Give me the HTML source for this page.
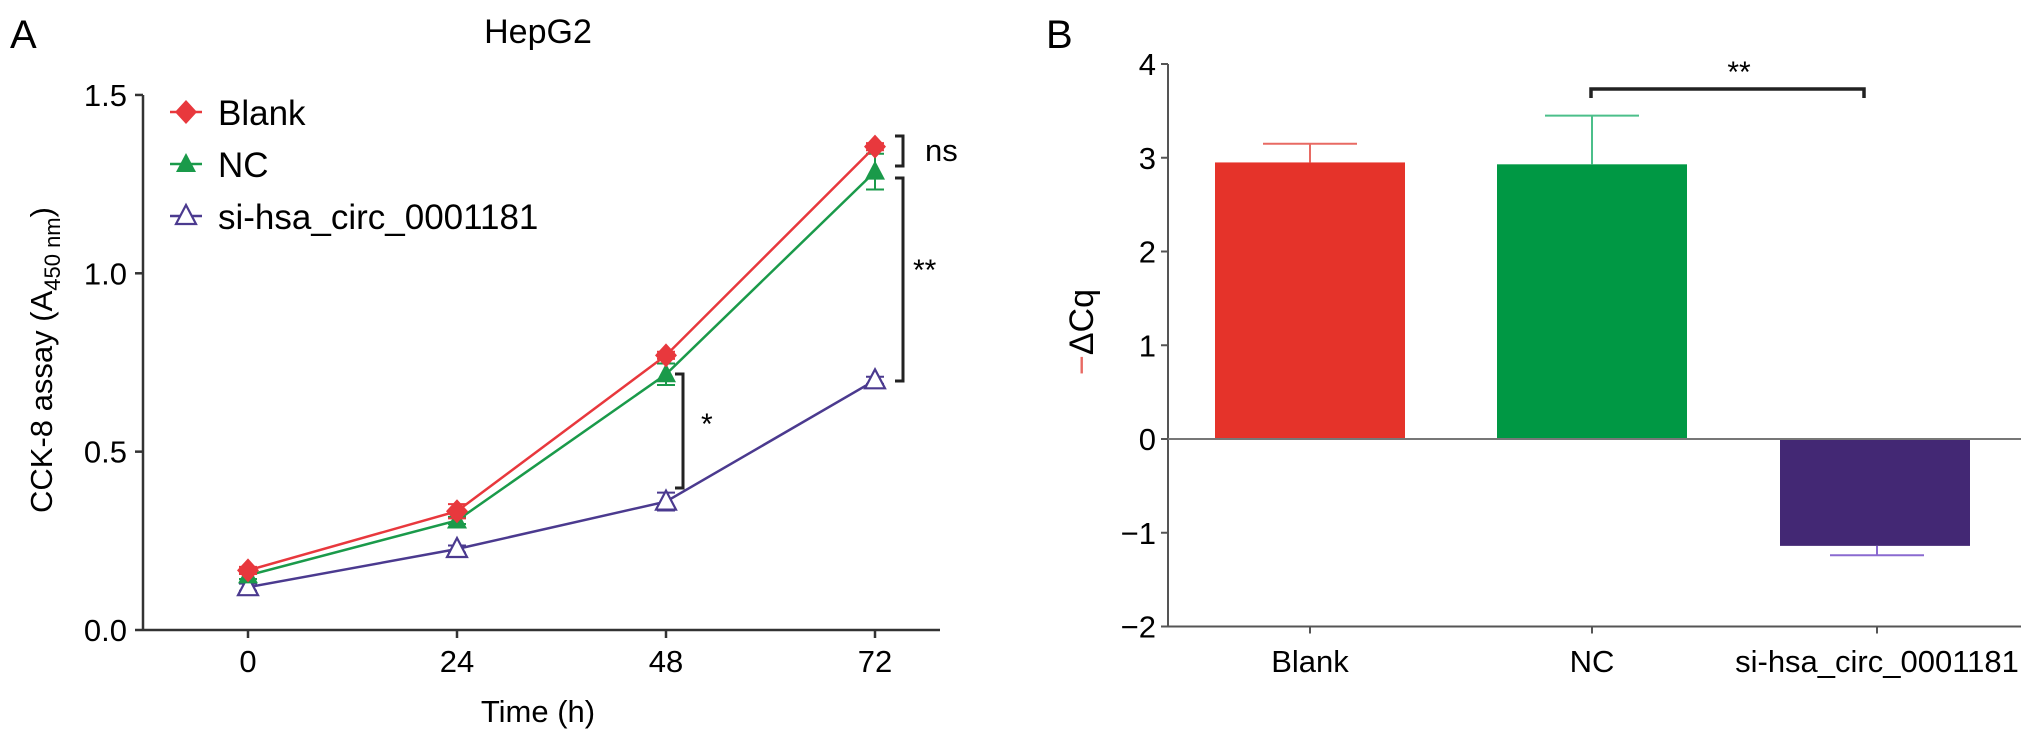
<!DOCTYPE html>
<html><head><meta charset="utf-8"><style>
html,body{margin:0;padding:0;background:#fff;}
svg{display:block;font-family:"Liberation Sans",Arial,sans-serif;}
</style></head><body>
<svg id="fig" width="2032" height="743" viewBox="0 0 2032 743" xmlns="http://www.w3.org/2000/svg">
<text x="10" y="48" font-size="40">A</text>
<text x="538" y="43" font-size="34" text-anchor="middle">HepG2</text>
<text x="1046" y="48" font-size="40">B</text>
<g id="a"></g>
<g id="b"></g>
</svg>
<script>
// Panel A data
const timesA = [0, 24, 48, 72];
const blankA = [0.167, 0.333, 0.77, 1.355];
const ncA = [0.153, 0.307, 0.717, 1.285];
const siA = [0.12, 0.227, 0.36, 0.70];
const blankErrA = [0.01, 0.02, 0.01, 0.01];
const ncErrA = [0.01, 0.01, 0.03, 0.05];
const siErrA = [0.01, 0.01, 0.025, 0.01];
const yTicksA = ["0.0", "0.5", "1.0", "1.5"];
// Panel B data
const catsB = ["Blank", "NC", "si-hsa_circ_0001181"];
const valsB = [2.95, 2.93, -1.14];
const errsB = [0.2, 0.52, 0.1];
const yTicksB = [-2, -1, 0, 1, 2, 3, 4];

const NS = "http://www.w3.org/2000/svg";
function mk(parent, tag, attrs, text){
  const e = document.createElementNS(NS, tag);
  for (const k in attrs) e.setAttribute(k, attrs[k]);
  if (text !== undefined) e.textContent = text;
  parent.appendChild(e);
  return e;
}
const A = document.getElementById('a');
const B = document.getElementById('b');
const ax = t => 248 + t * (209/24);
const ay = v => 630 - v * 356.7;
const axisCol = "#333";

// Panel A axes
let e = mk(A, 'line', {x1:143, y1:ay(1.5), x2:143, y2:630, stroke:axisCol, 'stroke-width':2.5});


e = mk(A, 'line', {x1:143, y1:630, x2:940, y2:630, stroke:axisCol, 'stroke-width':2.5});


yTicksA.forEach(t => {
  const y = ay(parseFloat(t));
  mk(A, 'line', {x1:135, y1:y, x2:143, y2:y, stroke:axisCol, 'stroke-width':2.5});
  const tx = mk(A, 'text', {x:127, y:y+11, 'font-size':31, 'text-anchor':'end'}, t);
  
  
});
timesA.forEach(t => {
  const x = ax(t);
  mk(A, 'line', {x1:x, y1:630, x2:x, y2:638, stroke:axisCol, 'stroke-width':2.5});
  const tx = mk(A, 'text', {x:x, y:672, 'font-size':31, 'text-anchor':'middle'}, String(t));
  
  
});
e = mk(A, 'text', {x:538, y:722, 'font-size':31, 'text-anchor':'middle'}, 'Time (h)');


e = mk(A, 'text', {x:0, y:0, 'font-size':31, 'text-anchor':'middle', transform:'translate(52,360) rotate(-90)'});


e.innerHTML = 'CCK-8 assay (A<tspan font-size="22" dy="8">450 nm</tspan><tspan dy="-8">)</tspan>';

function marker(g, type, x, y, col){
  if (type === 'diamond') return mk(g, 'polygon', {points:`${x},${y-12} ${x+11},${y} ${x},${y+12} ${x-11},${y}`, fill:col});
  if (type === 'tri') return mk(g, 'polygon', {points:`${x},${y-11} ${x+10},${y+8} ${x-10},${y+8}`, fill:col});
  return mk(g, 'polygon', {points:`${x},${y-11} ${x+10},${y+8} ${x-10},${y+8}`, fill:'#fff', stroke:col, 'stroke-width':2.2});
}
const seriesA = [
  {name:'si', vals:siA, errs:siErrA, col:'#4b3a8f', m:'open'},
  {name:'nc', vals:ncA, errs:ncErrA, col:'#1a9a4a', m:'tri'},
  {name:'blank', vals:blankA, errs:blankErrA, col:'#e8383d', m:'diamond'}
];
seriesA.forEach(s => {
  const g = mk(A, 'g', {});
  
  
  const pts = timesA.map((t,i) => `${ax(t)},${ay(s.vals[i])}`).join(' ');
  mk(g, 'polyline', {points:pts, fill:'none', stroke:s.col, 'stroke-width':2.5});
  timesA.forEach((t,i) => {
    const x = ax(t);
    const y1 = ay(s.vals[i] + s.errs[i]), y2 = ay(s.vals[i] - s.errs[i]);
    mk(g, 'line', {x1:x, y1:y1, x2:x, y2:y2, stroke:s.col, 'stroke-width':2});
    mk(g, 'line', {x1:x-9, y1:y1, x2:x+9, y2:y1, stroke:s.col, 'stroke-width':2});
    mk(g, 'line', {x1:x-9, y1:y2, x2:x+9, y2:y2, stroke:s.col, 'stroke-width':2});
    const p = marker(g, s.m, x, ay(s.vals[i]), s.col);
    
    
  });
});
// legend
const leg = [
  {label:'Blank', col:'#e8383d', m:'diamond', y:112},
  {label:'NC', col:'#1a9a4a', m:'tri', y:164},
  {label:'si-hsa_circ_0001181', col:'#4b3a8f', m:'open', y:216}
];
leg.forEach(l => {
  const g = mk(A, 'g', {});
  
  
  mk(g, 'line', {x1:170, y1:l.y, x2:202, y2:l.y, stroke:l.col, 'stroke-width':2.5});
  marker(g, l.m, 186, l.y, l.col);
  mk(g, 'text', {x:218, y:l.y+13, 'font-size':35}, l.label);
});
// significance brackets A
function vbr(g, x, y1, y2, w){
  mk(g, 'polyline', {points:`${x-w},${y1} ${x},${y1} ${x},${y2} ${x-w},${y2}`, fill:'none', stroke:'#222', 'stroke-width':3});
}
let g = mk(A, 'g', {});


vbr(g, 683, 374, 488, 8);
mk(g, 'text', {x:701, y:434, 'font-size':30}, '*');
g = mk(A, 'g', {});


vbr(g, 903, 136, 166, 8);
mk(g, 'text', {x:925, y:161, 'font-size':31}, 'ns');
g = mk(A, 'g', {});


vbr(g, 903, 178, 381, 8);
mk(g, 'text', {x:913, y:280, 'font-size':30}, '**');

// Panel B
const bx = i => [1310, 1592, 1877][i];
const by = v => 439 - v * 93.75;
const bw = 190;
const colsB = ['#e5332a', '#009844', '#432874'];
const errColsB = ['#e86a63', '#4bbf8a', '#8a6ad0'];
e = mk(B, 'line', {x1:1168, y1:by(4), x2:1168, y2:by(-2), stroke:'#555', 'stroke-width':2});


e = mk(B, 'line', {x1:1168, y1:by(-2), x2:2021, y2:by(-2), stroke:'#555', 'stroke-width':2});


yTicksB.forEach(t => {
  const y = by(t);
  mk(B, 'line', {x1:1161, y1:y, x2:1168, y2:y, stroke:'#555', 'stroke-width':2});
  const tx = mk(B, 'text', {x:1156, y:y+11, 'font-size':31, 'text-anchor':'end'}, t < 0 ? '\u2212' + Math.abs(t) : String(t));
  
  
});
catsB.forEach((c,i) => {
  const x = bx(i), v = valsB[i];
  const r = mk(B, 'rect', {x:x-bw/2 + (i===2?-2:0), y:Math.min(by(v), by(0)), width:bw, height:Math.abs(by(v)-by(0)), fill:colsB[i]});
  
  
  const ye = by(v + Math.sign(v) * errsB[i]);
  mk(B, 'line', {x1:x, y1:by(v), x2:x, y2:ye, stroke:errColsB[i], 'stroke-width':2});
  mk(B, 'line', {x1:x-47, y1:ye, x2:x+47, y2:ye, stroke:errColsB[i], 'stroke-width':2});
  mk(B, 'line', {x1:x, y1:by(-2), x2:x, y2:by(-2)+7, stroke:'#555', 'stroke-width':2});
  const tx = mk(B, 'text', {x:x, y:672, 'font-size':31, 'text-anchor':'middle'}, c);
  
  
});
e = mk(B, 'line', {x1:1168, y1:by(0), x2:2021, y2:by(0), stroke:'#777', 'stroke-width':2});


e = mk(B, 'text', {x:0, y:0, 'font-size':34, 'text-anchor':'middle', transform:'translate(1093,332) rotate(-90)'});


e.innerHTML = '<tspan fill="#e86a63">\u2212</tspan>\u0394Cq';
g = mk(B, 'g', {});


mk(g, 'polyline', {points:'1591,98 1591,89 1864,89 1864,98', fill:'none', stroke:'#222', 'stroke-width':3.5});
mk(g, 'text', {x:1739, y:82, 'font-size':30, 'text-anchor':'middle'}, '**');
</script>
</body></html>
